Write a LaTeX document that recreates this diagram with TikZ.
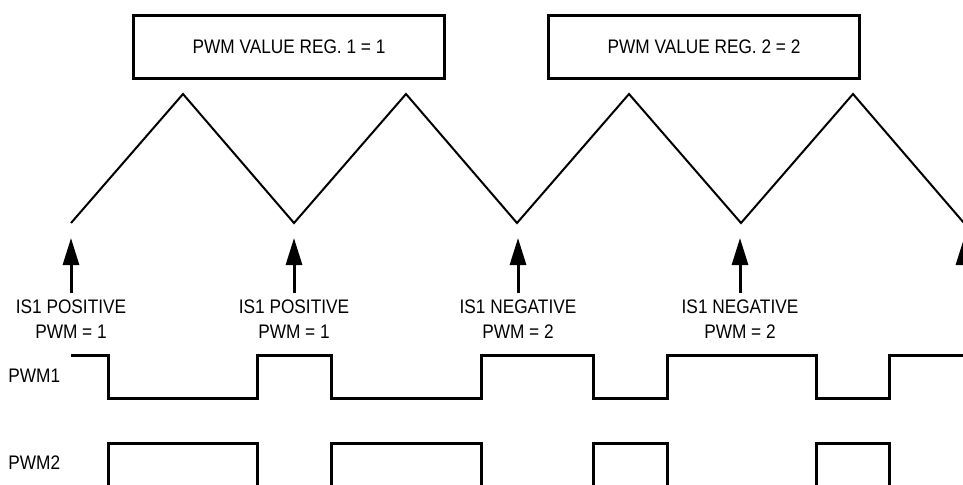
\documentclass[tikz,border=0pt]{standalone}
\usepackage{fontspec}
\setmainfont[FakeStretch=0.88]{Liberation Sans}
\usetikzlibrary{arrows.meta}

\begin{document}
\begin{tikzpicture}[
    x=0.5pt, y=-0.5pt,
    font=\fontsize{9.8}{12.5}\selectfont,
    regbox/.style={draw, line width=1.5pt, minimum width=155.5pt, minimum height=31.5pt, inner sep=0pt},
    sigtext/.style={align=center, anchor=north, inner xsep=0pt, inner ysep=3pt},
    sigarrow/.style={-{Triangle[length=13.5pt, width=8pt]}, line width=1.5pt},
    wave/.style={line width=1.5pt},
    ramp/.style={line width=1pt}
]
\useasboundingbox (0,0) rectangle (963,484);
\clip (0,0) rectangle (963,484);

% value registers
\node[regbox] (reg1) at (289,47) {PWM VALUE REG. 1 = 1};
\node[regbox] (reg2) at (704,47) {PWM VALUE REG. 2 = 2};

% carrier
\draw[ramp] (71,223) -- (183,94) -- (294,223) -- (406,94) -- (517,223)
    -- (629,94) -- (741,223) -- (853,94) -- (964,223);

% update points
\coordinate (tip1) at (71,238);
\coordinate (tip2) at (294,238);
\coordinate (tip3) at (518,238);
\coordinate (tip4) at (740,238);
\coordinate (tip5) at (964,238);
\node[sigtext] (is1) at (71,293) {IS1 POSITIVE\\PWM = 1};
\node[sigtext] (is2) at (294,293) {IS1 POSITIVE\\PWM = 1};
\node[sigtext] (is3) at (518,293) {IS1 NEGATIVE\\PWM = 2};
\node[sigtext] (is4) at (740,293) {IS1 NEGATIVE\\PWM = 2};
\coordinate (is5) at (964,293);
\draw[sigarrow] (is1) -- (tip1);
\draw[sigarrow] (is2) -- (tip2);
\draw[sigarrow] (is3) -- (tip3);
\draw[sigarrow] (is4) -- (tip4);
\draw[sigarrow] (is5) -- (tip5);

% outputs
\node[anchor=west, inner sep=0pt] (pwm1) at (8,376) {PWM1};
\node[anchor=west, inner sep=0pt] (pwm2) at (8,463) {PWM2};
\draw[wave] (71,355) -- (108,355) -- (108,398) -- (257,398) -- (257,355)
    -- (331,355) -- (331,398) -- (481,398) -- (481,355) -- (593,355)
    -- (593,398) -- (667,398) -- (667,355) -- (816,355) -- (816,398)
    -- (889,398) -- (889,355) -- (963,355);
\draw[wave] (108,490) -- (108,443) -- (257,443) -- (257,490);
\draw[wave] (331,490) -- (331,443) -- (481,443) -- (481,490);
\draw[wave] (593,490) -- (593,443) -- (667,443) -- (667,490);
\draw[wave] (816,490) -- (816,443) -- (889,443) -- (889,490);
\end{tikzpicture}
\end{document}
